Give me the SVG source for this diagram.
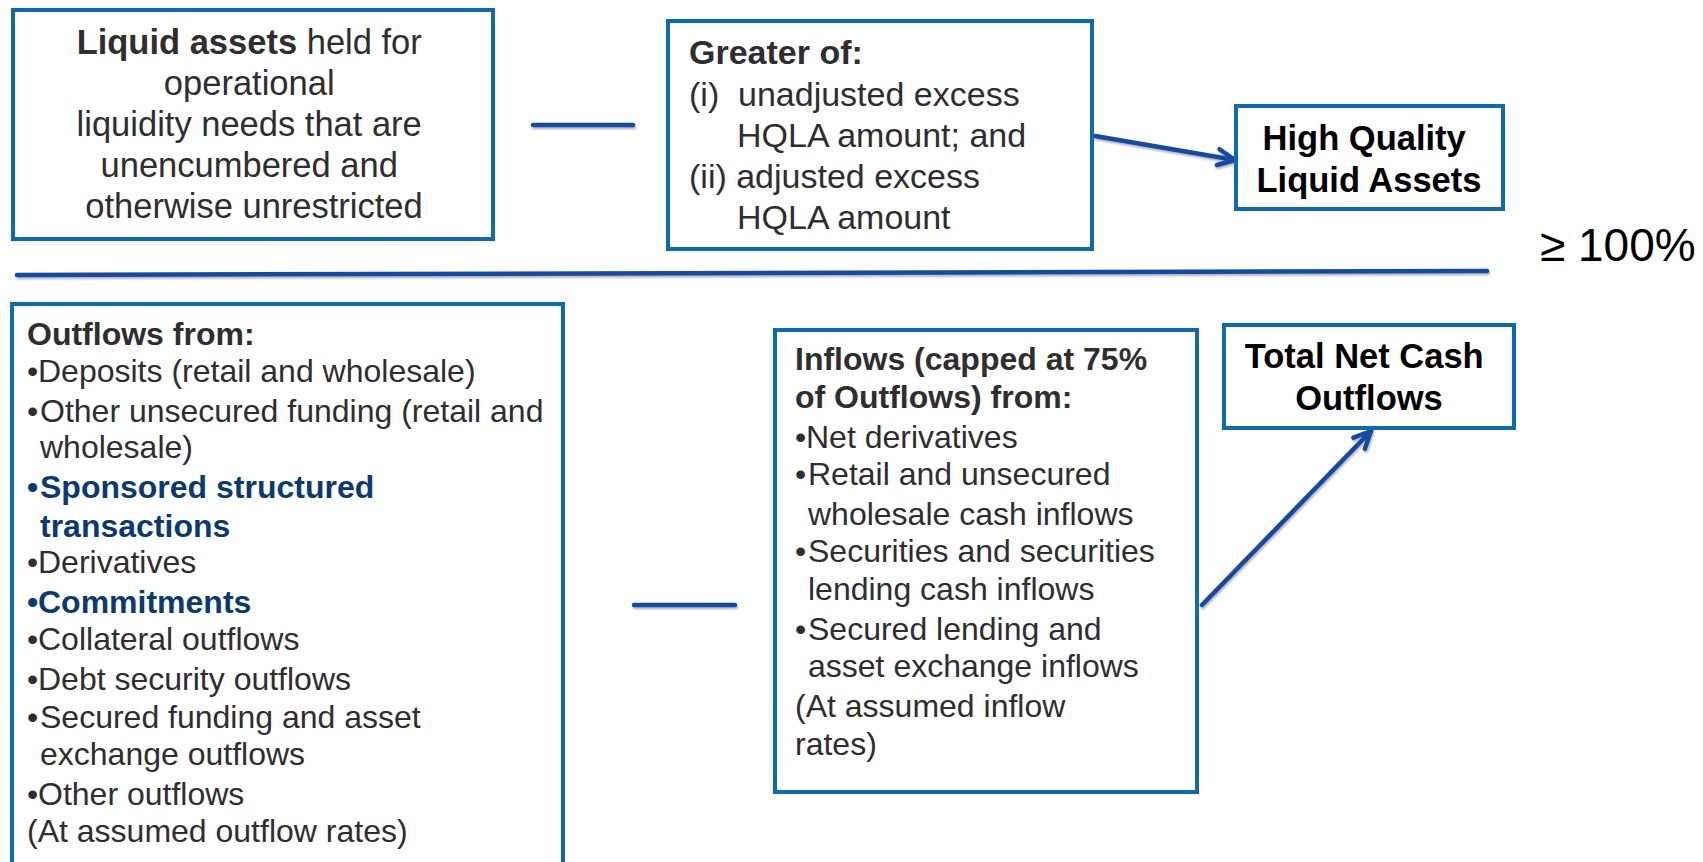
<svg xmlns="http://www.w3.org/2000/svg" width="1703" height="862" viewBox="0 0 1703 862">
<style>
.box{fill:#fff;stroke:#0b6ab0;stroke-width:4}
.conn{stroke:#1549a1;stroke-width:4.5;fill:none;stroke-linecap:round}
.t{font-family:"Liberation Sans",Arial,sans-serif;fill:#2e2e2e}
.t34{font-size:34px}
.t32{font-size:32px}
.b{font-weight:bold}
.blk{fill:#000}
.nav{fill:#0b3a70;font-weight:bold}
</style>
<defs>
<filter id="sh" x="-10%" y="-10%" width="120%" height="130%">
<feDropShadow dx="1" dy="2" stdDeviation="1.2" flood-color="#000" flood-opacity="0.3"/>
</filter>
<marker id="arr" viewBox="0 0 24 24" refX="21" refY="12" markerWidth="24" markerHeight="24" markerUnits="userSpaceOnUse" orient="auto">
<path d="M4,4 L21,12 L4,20" fill="none" stroke="#1549a1" stroke-width="4.5" stroke-linecap="round" stroke-linejoin="round"/>
</marker>
</defs>
<rect width="1703" height="862" fill="#fff"/>

<g id="connectors" filter="url(#sh)">
<line class="conn" x1="533" y1="125" x2="633" y2="125"/>
<line class="conn" x1="1095" y1="136" x2="1235" y2="160" marker-end="url(#arr)"/>
<line class="conn" x1="17" y1="275" x2="1487" y2="271"/>
<line class="conn" x1="634" y1="605" x2="735" y2="605"/>
<line class="conn" x1="1202" y1="605" x2="1371" y2="431" marker-end="url(#arr)"/>
</g>

<g id="liquid-assets">
<rect class="box" x="13" y="10" width="480" height="229"/>
<text class="t" font-size="34.5" text-anchor="middle">
<tspan x="254" y="54"><tspan class="b">Liquid assets</tspan> held for</tspan>
<tspan x="254" y="95">operational</tspan>
<tspan x="254" y="136">liquidity needs that are</tspan>
<tspan x="254" y="177">unencumbered and</tspan>
<tspan x="254" y="218">otherwise unrestricted</tspan>
</text>
</g>

<g id="greater-of">
<rect class="box" x="668" y="21" width="424" height="228"/>
<text class="t t34">
<tspan x="689" y="64" class="b">Greater of:</tspan>
<tspan x="689" y="106">(i)</tspan><tspan x="738" y="106">unadjusted excess</tspan>
<tspan x="737" y="147">HQLA amount; and</tspan>
<tspan x="689" y="188">(ii) adjusted excess</tspan>
<tspan x="737" y="229">HQLA amount</tspan>
</text>
</g>

<g id="hqla">
<rect class="box" x="1236" y="106" width="267" height="103"/>
<text class="t b blk" font-size="34.5" text-anchor="middle">
<tspan x="1369" y="150">High Quality</tspan>
<tspan x="1369" y="192">Liquid Assets</tspan>
</text>
</g>

<g id="ratio">
<text class="t blk" x="1540" y="261" font-size="46">≥ 100%</text>
</g>

<g id="outflows">
<rect class="box" x="12" y="304" width="551" height="580"/>
<text class="t t32">
<tspan x="27" y="345" class="b">Outflows from:</tspan>
<tspan x="27" y="382">•</tspan><tspan x="38" y="382">Deposits (retail and wholesale)</tspan>
<tspan x="27" y="422">•</tspan><tspan x="40" y="422">Other unsecured funding (retail and</tspan>
<tspan x="40" y="458">wholesale)</tspan>
<tspan x="27" y="498" class="nav">•</tspan><tspan x="40" y="498" class="nav">Sponsored structured</tspan>
<tspan x="40" y="537" class="nav">transactions</tspan>
<tspan x="27" y="573">•</tspan><tspan x="38" y="573">Derivatives</tspan>
<tspan x="27" y="613" class="nav">•</tspan><tspan x="38" y="613" class="nav">Commitments</tspan>
<tspan x="27" y="650">•</tspan><tspan x="38" y="650">Collateral outflows</tspan>
<tspan x="27" y="690">•</tspan><tspan x="38" y="690">Debt security outflows</tspan>
<tspan x="27" y="728">•</tspan><tspan x="40" y="728">Secured funding and asset</tspan>
<tspan x="40" y="765">exchange outflows</tspan>
<tspan x="27" y="805">•</tspan><tspan x="38" y="805">Other outflows</tspan>
<tspan x="27" y="842">(At assumed outflow rates)</tspan>
</text>
</g>

<g id="inflows">
<rect class="box" x="775" y="330" width="422" height="462"/>
<text class="t t32">
<tspan x="795" y="370" class="b">Inflows (capped at 75%</tspan>
<tspan x="795" y="408" class="b">of Outflows) from:</tspan>
<tspan x="795" y="448">•</tspan><tspan x="806" y="448">Net derivatives</tspan>
<tspan x="795" y="485">•</tspan><tspan x="808" y="485">Retail and unsecured</tspan>
<tspan x="808" y="525">wholesale cash inflows</tspan>
<tspan x="795" y="562">•</tspan><tspan x="808" y="562">Securities and securities</tspan>
<tspan x="808" y="600">lending cash inflows</tspan>
<tspan x="795" y="640">•</tspan><tspan x="808" y="640">Secured lending and</tspan>
<tspan x="808" y="677">asset exchange inflows</tspan>
<tspan x="795" y="717">(At assumed inflow</tspan>
<tspan x="795" y="755">rates)</tspan>
</text>
</g>

<g id="total-net-cash-outflows">
<rect class="box" x="1224" y="325" width="290" height="103"/>
<text class="t b blk" font-size="34.5" text-anchor="middle">
<tspan x="1369" y="368">Total Net Cash</tspan>
<tspan x="1369" y="410">Outflows</tspan>
</text>
</g>
</svg>
